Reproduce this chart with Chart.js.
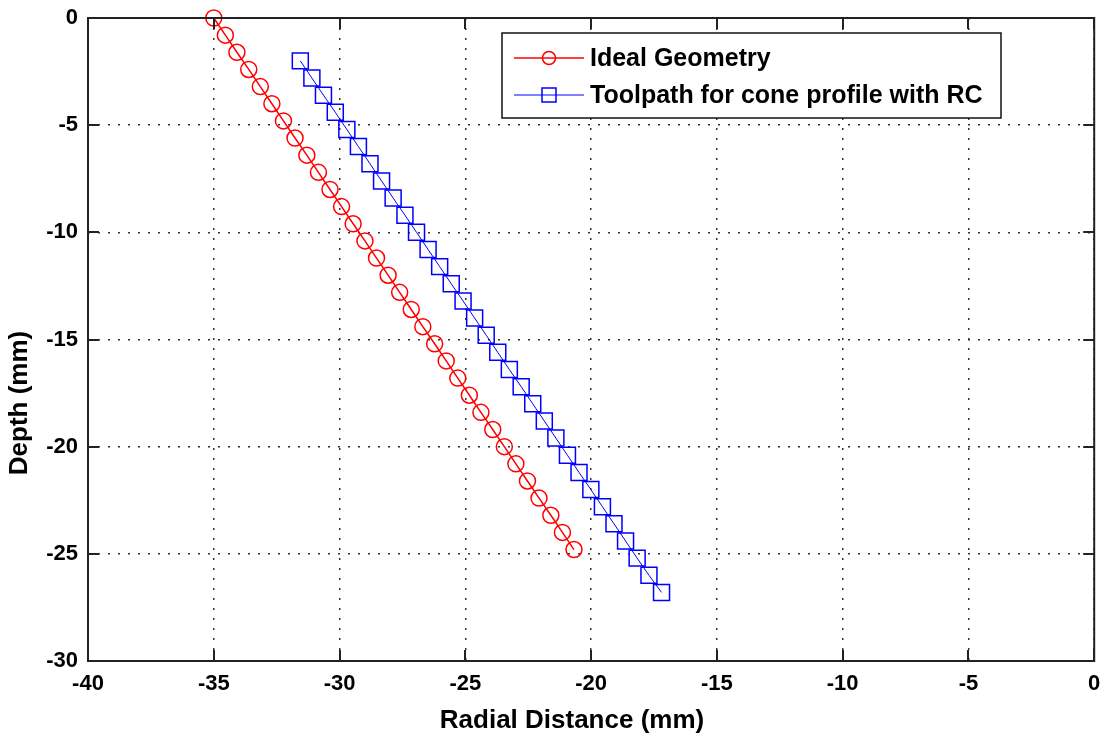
<!DOCTYPE html>
<html>
<head>
<meta charset="utf-8">
<title>Cone profile toolpath</title>
<script src="https://cdn.jsdelivr.net/npm/chart.js@4.4.1/dist/chart.umd.min.js"></script>
<style>
  html, body { margin: 0; padding: 0; background: #fff; }
  canvas { display: block; }
</style>
</head>
<body>
<canvas id="coneChart" width="1107" height="738"></canvas>
<script>
// Ideal geometry (radial distance, depth) in mm
const idealX = [-35.00, -34.54, -34.08, -33.61, -33.15, -32.69, -32.23, -31.77,
  -31.30, -30.84, -30.38, -29.92, -29.46, -28.99, -28.53, -28.07,
  -27.61, -27.15, -26.69, -26.22, -25.76, -25.30, -24.84, -24.38,
  -23.91, -23.45, -22.99, -22.53, -22.07, -21.60, -21.14, -20.68];
const idealY = [0, -0.8, -1.6, -2.4, -3.2, -4.0, -4.8, -5.6,
  -6.4, -7.2, -8.0, -8.8, -9.6, -10.4, -11.2, -12.0,
  -12.8, -13.6, -14.4, -15.2, -16.0, -16.8, -17.6, -18.4,
  -19.2, -20.0, -20.8, -21.6, -22.4, -23.2, -24.0, -24.8];

// Toolpath with radius compensation
const toolX = [-31.56, -31.10, -30.64, -30.17, -29.71, -29.25, -28.79, -28.33,
  -27.87, -27.40, -26.94, -26.48, -26.02, -25.56, -25.09, -24.63,
  -24.17, -23.71, -23.25, -22.78, -22.32, -21.86, -21.40, -20.94,
  -20.48, -20.01, -19.55, -19.09, -18.63, -18.17, -17.70, -17.20];
const toolY = [-2.0, -2.8, -3.6, -4.4, -5.2, -6.0, -6.8, -7.6,
  -8.4, -9.2, -10.0, -10.8, -11.6, -12.4, -13.2, -14.0,
  -14.8, -15.6, -16.4, -17.2, -18.0, -18.8, -19.6, -20.4,
  -21.2, -22.0, -22.8, -23.6, -24.4, -25.2, -26.0, -26.8];

const seriesNames = ['Ideal Geometry', 'Toolpath for cone profile with RC'];
const xTicks = [-40, -35, -30, -25, -20, -15, -10, -5, 0];
const yTicks = [-30, -25, -20, -15, -10, -5, 0];
const xTitle = 'Radial Distance (mm)';
const yTitle = 'Depth (mm)';

const FONT = '"Liberation Sans", Arial, sans-serif';

function toPoints(xs, ys) {
  return xs.map((x, i) => ({ x: x, y: ys[i] }));
}

// white page, box frame with inward ticks, legend and axis titles (MATLAB look)
const matlabFrame = {
  id: 'matlabFrame',
  beforeDraw(chart) {
    const ctx = chart.ctx;
    ctx.save();
    ctx.fillStyle = '#fff';
    ctx.fillRect(0, 0, chart.width, chart.height);
    ctx.restore();
  },
  afterDraw(chart) {
    const ctx = chart.ctx;
    const a = chart.chartArea;
    const xs = chart.scales.x, ys = chart.scales.y;
    const tl = 11;
    ctx.save();
    ctx.strokeStyle = '#222';
    ctx.lineWidth = 2;
    ctx.beginPath();
    xTicks.forEach(v => {
      const px = Math.round(xs.getPixelForValue(v));
      ctx.moveTo(px, a.bottom); ctx.lineTo(px, a.bottom - tl);
      ctx.moveTo(px, a.top); ctx.lineTo(px, a.top + tl);
    });
    yTicks.forEach(v => {
      const py = Math.round(ys.getPixelForValue(v));
      ctx.moveTo(a.left, py); ctx.lineTo(a.left + tl, py);
      ctx.moveTo(a.right, py); ctx.lineTo(a.right - tl, py);
    });
    ctx.stroke();
    ctx.strokeRect(a.left, a.top, a.right - a.left, a.bottom - a.top);

    // legend
    const lx = 502, ly = 33, lw = 499, lh = 85;
    ctx.fillStyle = '#fff';
    ctx.fillRect(lx, ly, lw, lh);
    ctx.lineWidth = 1.5;
    ctx.strokeStyle = '#111';
    ctx.strokeRect(lx, ly, lw, lh);
    const rows = [58, 95];
    chart.data.datasets.forEach((ds, i) => {
      const y = rows[i];
      ctx.strokeStyle = ds.borderColor;
      ctx.lineWidth = ds.borderWidth;
      ctx.beginPath();
      ctx.moveTo(514, y); ctx.lineTo(584, y);
      ctx.stroke();
      ctx.lineWidth = 1.5;
      ctx.beginPath();
      if (ds.pointStyle === 'rect') {
        ctx.rect(549 - 7, y - 7, 14, 14);
      } else {
        ctx.arc(549, y, 6.5, 0, Math.PI * 2);
      }
      ctx.stroke();
      ctx.fillStyle = '#000';
      ctx.font = 'bold 25px ' + FONT;
      ctx.textAlign = 'left';
      ctx.textBaseline = 'middle';
      ctx.fillText(ds.label, 590, y + 1);
    });

    // axis titles
    ctx.fillStyle = '#000';
    ctx.font = 'bold 26px ' + FONT;
    ctx.textAlign = 'center';
    ctx.textBaseline = 'middle';
    ctx.fillText(xTitle, 572, 721);
    ctx.translate(20, 403);
    ctx.rotate(-Math.PI / 2);
    ctx.fillText(yTitle, 0, 0);
    ctx.restore();
  }
};

const ctx = document.getElementById('coneChart').getContext('2d');
const coneChart = new Chart(ctx, {
  type: 'scatter',
  data: {
    datasets: [{
      label: seriesNames[0],
      data: toPoints(idealX, idealY),
      showLine: true,
      borderColor: '#ff0000',
      borderWidth: 1.5,
      pointStyle: 'circle',
      pointRadius: 8,
      pointHoverRadius: 8,
      pointBorderWidth: 1.5,
      pointBorderColor: '#ff0000',
      pointBackgroundColor: 'rgba(0,0,0,0)',
      clip: false
    }, {
      label: seriesNames[1],
      data: toPoints(toolX, toolY),
      showLine: true,
      borderColor: '#0000ff',
      borderWidth: 1,
      pointStyle: 'rect',
      pointRadius: 11.3,
      pointHoverRadius: 11.3,
      pointBorderWidth: 1.5,
      pointBorderColor: '#0000ff',
      pointBackgroundColor: 'rgba(0,0,0,0)',
      clip: false
    }]
  },
  options: {
    responsive: false,
    animation: false,
    layout: {
      padding: { top: 18, right: 12, left: 0, bottom: 0 }
    },
    plugins: {
      legend: { display: false },
      tooltip: { enabled: false }
    },
    scales: {
      x: {
        type: 'linear',
        min: -40,
        max: 0,
        afterFit: (scale) => {
          scale.height = 77;
          scale.paddingLeft = 0;
          scale.paddingRight = 0;
        },
        afterBuildTicks: (scale) => { scale.ticks = xTicks.map(v => ({ value: v })); },
        ticks: {
          color: '#000',
          padding: 10,
          maxRotation: 0,
          font: { family: FONT, size: 22, weight: 'bold' }
        },
        grid: {
          color: '#333',
          lineWidth: 1.5,
          drawTicks: false
        },
        border: { display: false, dash: [2, 8] }
      },
      y: {
        type: 'linear',
        min: -30,
        max: 0,
        afterFit: (scale) => {
          scale.width = 88;
          scale.paddingTop = 0;
          scale.paddingBottom = 0;
        },
        afterBuildTicks: (scale) => { scale.ticks = yTicks.map(v => ({ value: v })); },
        ticks: {
          color: '#000',
          padding: 10,
          font: { family: FONT, size: 22, weight: 'bold' }
        },
        grid: {
          color: '#333',
          lineWidth: 1.5,
          drawTicks: false
        },
        border: { display: false, dash: [2, 8] }
      }
    }
  },
  plugins: [matlabFrame]
});
</script>
</body>
</html>
